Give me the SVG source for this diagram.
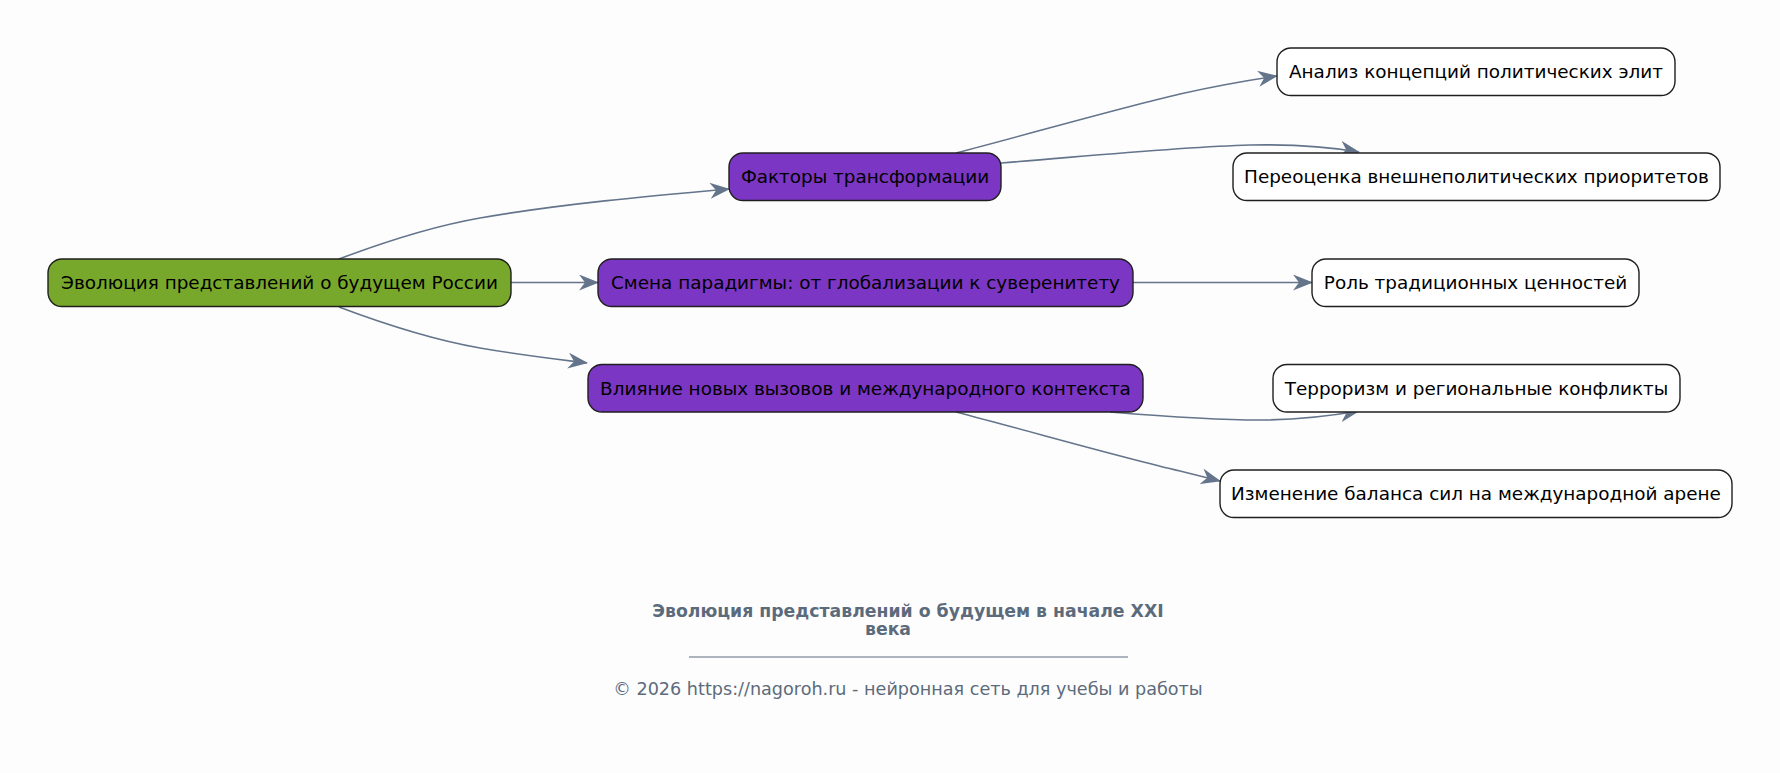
<svg xmlns="http://www.w3.org/2000/svg" width="1780" height="773" viewBox="0 0 1780 773">
<style>
.n rect{stroke:#1f1f1f;stroke-width:1.4}
.n text{font-family:"DejaVu Sans",sans-serif;font-size:18.4px;fill:#000;text-anchor:middle}
.root rect{fill:#78a82b}
.mid rect{fill:#7b36c4}
.leaf rect{fill:#ffffff}
.e{fill:none;stroke:#64748b;stroke-width:1.6}
.t{font-family:"DejaVu Sans",sans-serif;fill:#5c6b7c;text-anchor:middle}
</style>
<defs>
<marker id="ah" viewBox="0 0 20 16" refX="19" refY="8" markerWidth="20" markerHeight="16" markerUnits="userSpaceOnUse" orient="auto">
<path d="M0,0 L20,8 L0,16 L6,8 z" fill="#64748b"/>
</marker>
</defs>
<rect width="1780" height="773" fill="#fdfdfd"/>
<g id="connectors">
<path class="e" marker-end="url(#ah)" d="M339,259 C400,236 440,225 480,218 C560,204 650,196 729,189"/>
<path class="e" marker-end="url(#ah)" d="M511,282.5 L598,282.5"/>
<path class="e" marker-end="url(#ah)" d="M339,307 C400,330 440,341 480,348 C520,355 555,359 587,363"/>
<path class="e" marker-end="url(#ah)" d="M956,153 C1040,131 1120,108 1180,94 C1220,85 1250,80 1277,76"/>
<path class="e" marker-end="url(#ah)" d="M1001,163 C1100,155 1180,147 1250,145 C1300,144 1330,147 1359,152"/>
<path class="e" marker-end="url(#ah)" d="M1133,282.5 L1312,282.5"/>
<path class="e" marker-end="url(#ah)" d="M1110,412 C1160,416 1210,420 1260,420 C1300,420 1330,416 1359,411"/>
<path class="e" marker-end="url(#ah)" d="M956,412 C1040,434 1120,457 1180,471 L1220,481"/>
</g>
<g id="root" class="n root"><rect x="48" y="259" width="463" height="47.5" rx="14"/><text x="279.5" y="289">Эволюция представлений о будущем России</text></g>
<g id="factors" class="n mid"><rect x="729" y="153" width="272" height="47.5" rx="14"/><text x="865" y="183">Факторы трансформации</text></g>
<g id="smena" class="n mid"><rect x="598" y="259" width="535" height="47.5" rx="14"/><text x="865.5" y="289">Смена парадигмы: от глобализации к суверенитету</text></g>
<g id="vliyanie" class="n mid"><rect x="588" y="364.5" width="555" height="47.5" rx="14"/><text x="865.5" y="394.5">Влияние новых вызовов и международного контекста</text></g>
<g id="analiz" class="n leaf"><rect x="1277" y="48" width="398" height="47.5" rx="14"/><text x="1476" y="78">Анализ концепций политических элит</text></g>
<g id="pereocenka" class="n leaf"><rect x="1233" y="153" width="487" height="47.5" rx="14"/><text x="1476.5" y="183">Переоценка внешнеполитических приоритетов</text></g>
<g id="rol" class="n leaf"><rect x="1312" y="259" width="327" height="47.5" rx="14"/><text x="1475.5" y="289">Роль традиционных ценностей</text></g>
<g id="terror" class="n leaf"><rect x="1273" y="364.5" width="407" height="47.5" rx="14"/><text x="1476.5" y="394.5">Терроризм и региональные конфликты</text></g>
<g id="izmenenie" class="n leaf"><rect x="1220" y="470" width="512" height="47.5" rx="14"/><text x="1476" y="500">Изменение баланса сил на международной арене</text></g>
<g id="footer">
<text class="t" x="908" y="617" font-size="17.3" font-weight="bold">Эволюция представлений о будущем в начале XXI</text>
<text class="t" x="888" y="635" font-size="17.3" font-weight="bold">века</text>
<line x1="689" y1="657" x2="1128" y2="657" stroke="#5c6b7c" stroke-width="1"/>
<text class="t" x="908" y="695" font-size="17.6">© 2026 https://nagoroh.ru - нейронная сеть для учебы и работы</text>
</g>
</svg>
